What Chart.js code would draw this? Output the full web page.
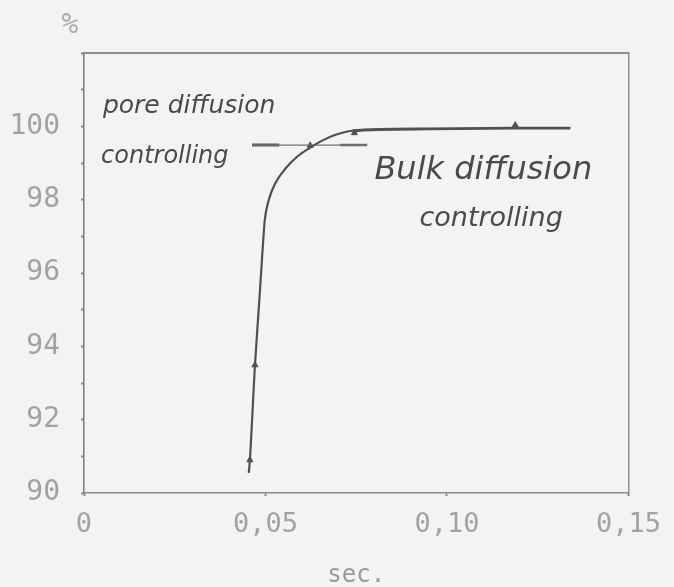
<!DOCTYPE html>
<html>
<head>
<meta charset="utf-8">
<script src="https://cdn.jsdelivr.net/npm/chart.js@4/dist/chart.umd.min.js"></script>
<style>
  html, body { margin: 0; padding: 0; background: #f3f3f1; }
  #wrap { width: 674px; height: 587px; position: relative; }
</style>
</head>
<body>
<div id="wrap"><canvas id="c" width="674" height="587"></canvas></div>
<script>
// Conversion vs. contact time
const curveX = [0.0454, 0.0457, 0.0471, 0.0483, 0.0492, 0.0498, 0.0509, 0.0527, 0.0555, 0.0587, 0.0620, 0.0656, 0.0693, 0.0739, 0.0950, 0.1188, 0.1340];
const curveY = [90.55, 90.90, 93.49, 95.26, 96.63, 97.44, 97.99, 98.45, 98.85, 99.17, 99.40, 99.61, 99.77, 99.88, 99.93, 99.95, 99.95];

// measured points marked on the curve
const markX = [0.0457, 0.0471, 0.0623, 0.0745, 0.1188];
const markY = [90.90, 93.49, 99.48, 99.82, 100.03];

// pore / bulk diffusion boundary line, with heavier end strokes
const boundaryX = [0.0463, 0.0780];
const boundaryY = [99.49, 99.49];
const boundaryLeftX = [0.0463, 0.0538];
const boundaryRightX = [0.0706, 0.0780];

// x tick labels
const xTickValues = [0, 0.05, 0.10, 0.15];
const xTickLabels = ['0', '0,05', '0,10', '0,15'];
// y tick labels
const yTickValues = [90, 92, 94, 96, 98, 100];
const yTickLabels = ['90', '92', '94', '96', '98', '100'];

// handwritten notes
const notes = [
  { text: 'pore diffusion', x: 0.0052, y: 100.55, size: 25 },
  { text: 'controlling',    x: 0.0047, y: 99.16,  size: 24 },
  { text: 'Bulk diffusion', x: 0.0800, y: 98.78,  size: 32 },
  { text: 'controlling',    x: 0.0924, y: 97.48,  size: 27 }
];

const toPts = (xs, ys) => xs.map((x, i) => ({ x, y: ys[i] }));

const GRAY = '#a2a2a2';
const AXIS = '#8a8a8a';
const INK = '#4a4a4a';
const MONO = '"DejaVu Sans Mono", "Liberation Mono", monospace';

const notesPlugin = {
  id: 'notes',
  afterDatasetsDraw(chart) {
    const { ctx, scales, chartArea } = chart;
    ctx.save();
    ctx.fillStyle = INK;
    ctx.textBaseline = 'middle';
    ctx.textAlign = 'left';
    notes.forEach(n => {
      ctx.font = 'italic ' + n.size + 'px "DejaVu Sans", sans-serif';
      ctx.fillText(n.text, scales.x.getPixelForValue(n.x), scales.y.getPixelForValue(n.y));
    });
    // unit of the vertical axis
    ctx.fillStyle = '#ababab';
    ctx.font = '28px ' + MONO;
    ctx.textAlign = 'center';
    ctx.fillText('%', chartArea.left - 14, chartArea.top - 27);
    ctx.restore();
  }
};

new Chart(document.getElementById('c'), {
  type: 'scatter',
  data: {
    datasets: [
      {
        label: 'conversion',
        data: toPts(curveX, curveY),
        showLine: true,
        borderColor: '#505050',
        borderWidth: 2.2,
        pointRadius: 0,
        cubicInterpolationMode: 'monotone',
        segment: {
          // the plateau is inked more heavily
          borderWidth: ctx => (ctx.p0.parsed.x >= 0.0739 ? 2.8 : 2.2)
        }
      },
      {
        label: 'boundary',
        data: toPts(boundaryX, boundaryY),
        showLine: true,
        borderColor: '#707070',
        borderWidth: 1.2,
        pointRadius: 0
      },
      {
        label: 'boundary left',
        data: toPts(boundaryLeftX, boundaryY),
        showLine: true,
        borderColor: '#5a5a5a',
        borderWidth: 3,
        pointRadius: 0
      },
      {
        label: 'boundary right',
        data: toPts(boundaryRightX, boundaryY),
        showLine: true,
        borderColor: '#6a6a6a',
        borderWidth: 2.5,
        pointRadius: 0
      },
      {
        label: 'points',
        data: toPts(markX, markY),
        showLine: false,
        pointStyle: 'triangle',
        pointRadius: 3.5,
        backgroundColor: '#505050',
        borderColor: '#505050',
        borderWidth: 1
      }
    ]
  },
  options: {
    responsive: false,
    animation: false,
    events: [],
    layout: { padding: { left: 0, right: 39, top: 53, bottom: 0 } },
    plugins: { legend: { display: false }, tooltip: { enabled: false } },
    scales: {
      x: {
        type: 'linear',
        min: 0, max: 0.15,
        afterFit: s => { s.height = 94; },
        afterBuildTicks: s => { s.ticks = xTickValues.map(v => ({ value: v })); },
        grid: { drawOnChartArea: false, tickLength: 3, tickColor: AXIS, tickWidth: 2 },
        border: { color: AXIS, width: 1.5, dash: [10, 2] },
        ticks: {
          color: GRAY,
          font: { family: MONO, size: 27 },
          padding: 13,
          maxRotation: 0,
          callback: v => {
            const i = xTickValues.findIndex(t => Math.abs(t - v) < 1e-9);
            return i >= 0 ? xTickLabels[i] : '';
          }
        },
        title: {
          display: true, text: 'sec.', color: '#9a9a9a',
          font: { family: MONO, size: 24 }, padding: { top: 0, bottom: -3 }
        }
      },
      y: {
        type: 'linear',
        min: 90, max: 102,
        afterFit: s => { s.width = 84; },
        ticks: {
          stepSize: 1,
          color: GRAY,
          font: { family: MONO, size: 28 },
          padding: 21,
          callback: v => {
            const i = yTickValues.indexOf(v);
            return i >= 0 ? yTickLabels[i] : '';
          }
        },
        grid: { drawOnChartArea: false, tickLength: 3, tickColor: AXIS, tickWidth: 2 },
        border: { color: '#7a7a7a', width: 1.5 }
      },
      xTop: {
        type: 'linear', position: 'top', min: 0, max: 0.15,
        afterFit: s => { s.height = 0; },
        ticks: { display: false },
        grid: { display: false },
        border: { display: true, color: AXIS, width: 2, dash: [8, 2] }
      },
      yRight: {
        type: 'linear', position: 'right', min: 90, max: 102,
        afterFit: s => { s.width = 0; },
        ticks: { display: false },
        grid: { display: false },
        border: { display: true, color: '#8e8e8e', width: 1.5 }
      }
    }
  },
  plugins: [notesPlugin]
});
</script>
</body>
</html>
